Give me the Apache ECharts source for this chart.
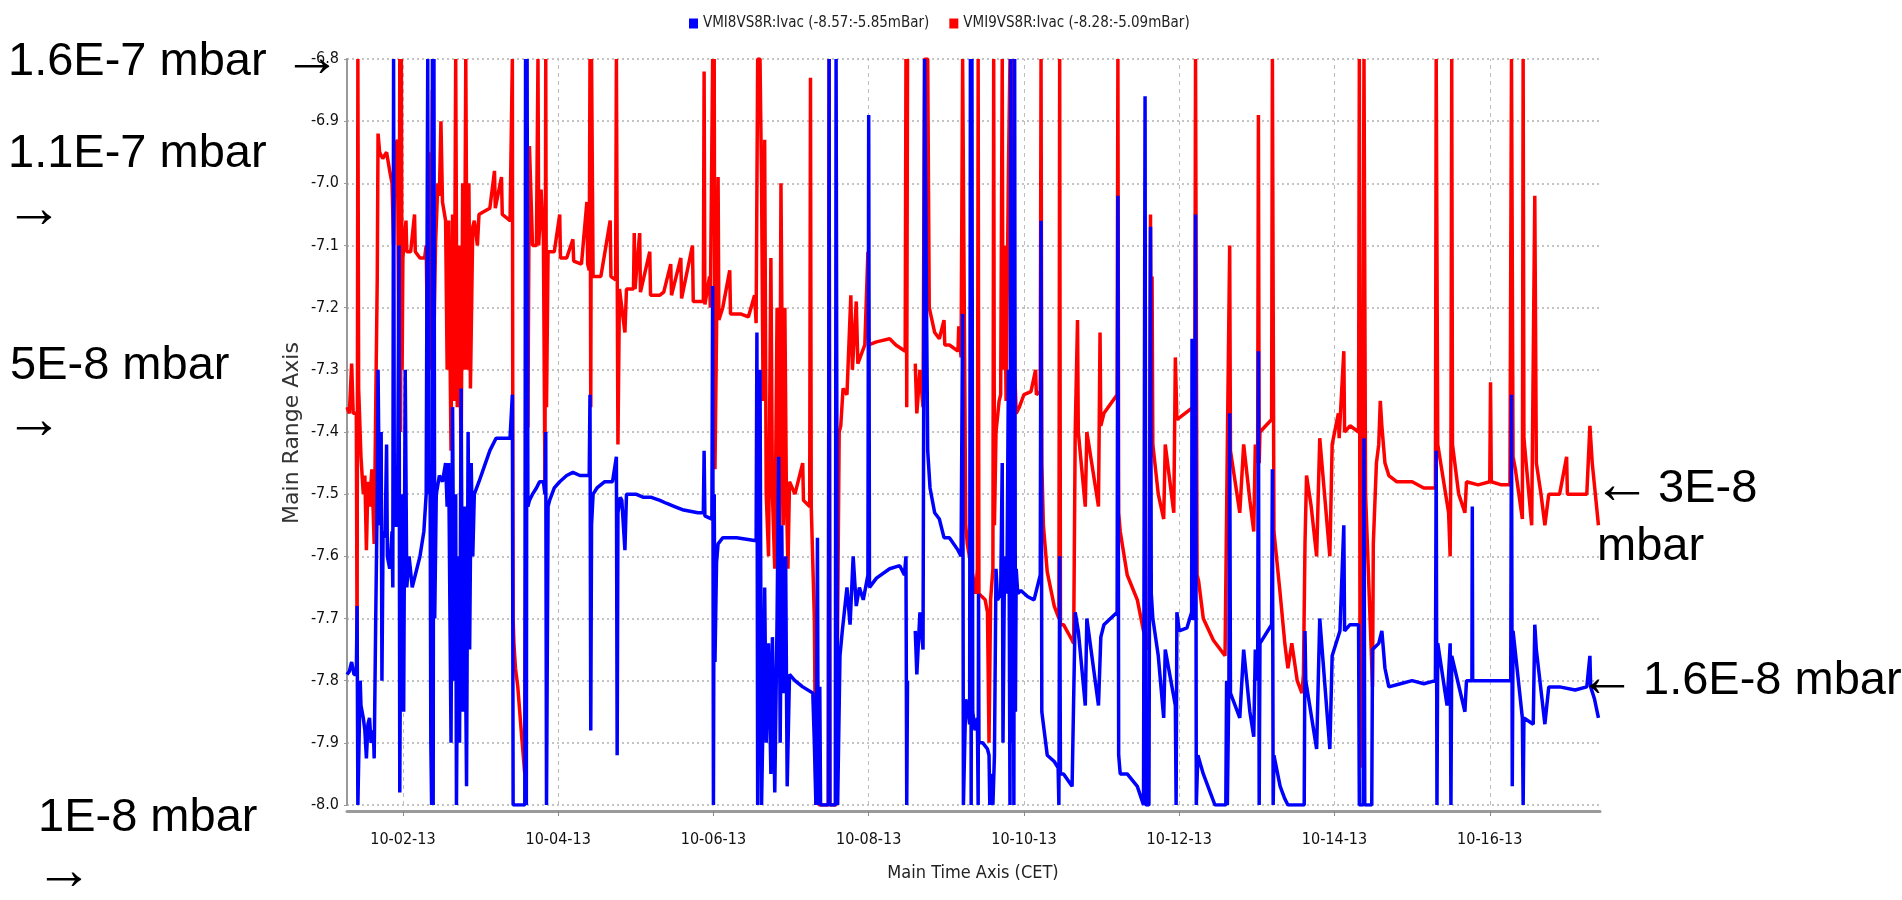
<!DOCTYPE html>
<html>
<head>
<meta charset="utf-8">
<title>VMI8VS8R / VMI9VS8R Ivac</title>
<script src="https://cdn.jsdelivr.net/npm/echarts@6/dist/echarts.min.js"></script>
<style>
  html, body { margin: 0; padding: 0; background: #fff; }
  #chart { width: 1902px; height: 900px; }
</style>
</head>
<body>
<div id="chart"></div>
<script>
// x = day of October 2013 (fractional), y = log10(pressure / mbar)
const xTickDays = [2, 4, 6, 8, 10, 12, 14, 16]
const seriesNames = ['VMI8VS8R:Ivac (-8.57:-5.85mBar)', 'VMI9VS8R:Ivac (-8.28:-5.09mBar)']

// VMI8VS8R (blue)
const blueA = [[1.28,-7.79],[1.31,-7.785],[1.34,-7.77],[1.37,-7.79],[1.40,-7.79],[1.41,-7.68],[1.42,-8.0],[1.44,-8.0],[1.45,-7.8],[1.46,-7.84],[1.49,-7.86],[1.51,-7.88],[1.53,-7.925],[1.55,-7.87],[1.57,-7.86],[1.59,-7.9],[1.62,-7.88],[1.63,-7.925],[1.65,-7.70],[1.67,-7.5],[1.68,-7.3],[1.70,-7.55],[1.72,-7.4],[1.73,-7.8],[1.745,-7.56],[1.77,-7.57],[1.79,-7.42],[1.80,-7.6],[1.83,-7.62],[1.86,-7.56],[1.87,-7.65],[1.88,-6.8],[1.89,-7.55],[1.93,-7.55],[1.95,-7.10],[1.96,-7.98],[1.97,-7.7],[1.99,-7.5],[2.01,-7.85],[2.03,-7.3],[2.05,-7.65],[2.08,-7.6],[2.12,-7.65],[2.18,-7.62],[2.22,-7.6],[2.27,-7.56],[2.30,-7.5],[2.32,-6.8],[2.33,-7.5],[2.35,-7.45],[2.36,-7.9],[2.37,-8.0],[2.38,-6.8],[2.39,-8.0],[2.40,-6.8],[2.41,-7.7],[2.43,-7.5],[2.47,-7.47],[2.51,-7.48],[2.55,-7.45],[2.57,-7.52],[2.59,-7.45],[2.62,-7.9],[2.64,-7.36],[2.66,-7.8],[2.68,-7.5],[2.69,-8.0],[2.71,-7.6],[2.73,-7.9],[2.75,-7.33],[2.77,-7.85],[2.79,-7.52],[2.82,-7.97],[2.84,-7.4],[2.86,-7.75],[2.88,-7.45],[2.90,-7.6],[2.92,-7.5],[2.98,-7.48],[3.05,-7.455],[3.12,-7.43],[3.20,-7.41],[3.27,-7.41],[3.38,-7.41],[3.40,-7.41],[3.41,-7.34],[3.42,-8.0],[3.44,-8.0],[3.57,-8.0],[3.58,-6.8],[3.59,-8.0],[3.60,-6.8],[3.61,-7.52],[3.63,-7.51],[3.67,-7.50],[3.72,-7.49],[3.76,-7.48],[3.81,-7.48],[3.83,-7.5],[3.84,-7.4],[3.85,-8.0],[3.86,-8.0],[3.87,-7.52],[3.89,-7.51],[3.95,-7.49],[4.02,-7.48],[4.11,-7.47],[4.19,-7.465],[4.28,-7.47],[4.37,-7.47],[4.40,-7.47],[4.41,-7.34],[4.42,-7.88],[4.43,-7.55],[4.45,-7.5],[4.50,-7.49],[4.60,-7.48],[4.70,-7.48],[4.75,-7.44],[4.76,-7.92],[4.77,-7.53],[4.80,-7.505],[4.82,-7.51],[4.86,-7.59],[4.88,-7.5],[4.92,-7.5],[5.0,-7.5],[5.10,-7.505],[5.20,-7.505],[5.31,-7.51]]
const blueB = [[5.40,-7.515],[5.50,-7.52],[5.60,-7.525],[5.80,-7.53],[5.87,-7.53],[5.88,-7.43],[5.89,-7.535],[5.98,-7.54],[5.99,-7.165],[6.0,-8.0],[6.01,-7.5],[6.02,-7.77],[6.04,-7.61],[6.06,-7.58],[6.12,-7.57],[6.30,-7.57],[6.55,-7.575],[6.56,-7.24],[6.57,-8.0],[6.60,-7.3],[6.62,-8.0],[6.64,-7.85],[6.66,-7.65],[6.68,-7.9],[6.71,-7.74],[6.74,-7.95],[6.76,-7.73],[6.79,-7.98],[6.82,-7.7],[6.84,-7.44],[6.86,-7.9],[6.88,-7.55],[6.90,-7.82],[6.93,-7.6],[6.95,-7.97],[6.98,-7.79],[7.05,-7.8],[7.15,-7.81],[7.28,-7.82],[7.30,-7.9],[7.32,-8.0],[7.34,-7.57],[7.35,-8.0],[7.37,-7.81],[7.38,-8.0],[7.48,-8.0],[7.49,-6.8],[7.50,-8.0],[7.57,-8.0],[7.58,-6.8],[7.60,-8.0],[7.62,-8.0],[7.63,-7.76],[7.66,-7.72],[7.72,-7.65],[7.76,-7.71],[7.80,-7.6],[7.84,-7.68],[7.88,-7.65],[7.93,-7.67],[7.99,-7.63],[8.00,-6.89],[8.01,-7.65],[8.10,-7.635],[8.27,-7.62],[8.40,-7.615],[8.46,-7.63],[8.48,-7.6],[8.49,-8.0],[8.50,-7.8],[8.55,null],[8.60,-7.72],[8.62,-7.79],[8.66,-7.69],[8.70,-7.75],[8.72,-6.8],[8.74,-6.8],[8.76,-7.43],[8.79,-7.49],[8.85,-7.53],[8.91,-7.54],[8.97,-7.57],[9.04,-7.57],[9.15,-7.59],[9.19,-7.6],[9.21,-7.21],[9.22,-8.0],[9.23,-8.0],[9.25,-7.83],[9.27,-7.84],[9.29,-7.86]]
const blueC = [[9.30,-7.87],[9.31,-6.8],[9.32,-8.0],[9.33,-6.8],[9.34,-7.85],[9.37,-7.88],[9.40,-7.86],[9.41,-8.0],[9.415,-7.66],[9.42,-7.9],[9.47,-7.9],[9.53,-7.91],[9.55,-7.92],[9.56,-8.0],[9.57,-7.95],[9.60,-8.0],[9.62,-7.92],[9.64,-7.62],[9.66,-7.67],[9.70,-7.66],[9.72,-7.45],[9.73,-7.9],[9.75,-7.6],[9.78,-7.66],[9.80,-7.30],[9.82,-8.0],[9.83,-6.8],[9.84,-7.9],[9.86,-7.5],[9.87,-8.0],[9.88,-6.8],[9.89,-7.85],[9.90,-7.62],[9.92,-7.66],[9.96,-7.655],[10.05,-7.665],[10.13,-7.67],[10.19,-7.64],[10.21,-7.63],[10.22,-7.06],[10.23,-7.85],[10.25,-7.87],[10.30,-7.92],[10.39,-7.93],[10.44,-7.94],[10.45,-8.0],[10.46,-7.60],[10.47,-7.95],[10.51,-7.95],[10.62,-7.97],[10.64,-7.97],[10.66,-7.69],[10.70,-7.72],[10.79,-7.84],[10.81,-7.70],[10.96,-7.84],[10.99,-7.73],[11.03,-7.71],[11.20,-7.69],[11.21,-7.02],[11.22,-7.92],[11.24,-7.95],[11.33,-7.95],[11.46,-7.97],[11.54,-8.0],[11.56,-6.86],[11.57,-8.0],[11.61,-8.0],[11.63,-7.07],[11.64,-7.66],[11.66,-7.70],[11.73,-7.76],[11.80,-7.86],[11.82,-7.75],[11.95,-7.84],[11.96,-8.0],[11.97,-7.69],[12.0,-7.72],[12.10,-7.715],[12.16,-7.69],[12.165,-7.25],[12.17,-7.70],[12.20,-7.70],[12.21,-7.05],[12.22,-8.0],[12.24,-7.92],[12.31,-7.95],[12.40,-7.98],[12.46,-8.0],[12.60,-8.0],[12.61,-7.80],[12.62,-8.0],[12.64,-7.80],[12.65,-7.37],[12.66,-7.82],[12.78,-7.86],[12.83,-7.75],[12.91,-7.85],[12.96,-7.89],[12.98,-7.75],[13.01,-7.8],[13.02,-7.27],[13.03,-8.0],[13.04,-7.74],[13.19,-7.71],[13.20,-7.46],[13.21,-8.0],[13.22,-7.92],[13.30,-7.97],[13.36,-7.99],[13.40,-8.0]]
const blueD = [[13.61,-8.0],[13.62,-7.72],[13.63,-7.80],[13.77,-7.91],[13.81,-7.70],[13.94,-7.91],[13.97,-7.76],[14.07,-7.72],[14.12,-7.55],[14.13,-7.72],[14.20,-7.71],[14.31,-7.71],[14.32,-8.0],[14.37,-8.0],[14.38,-7.41],[14.39,-8.0],[14.48,-8.0],[14.49,-7.75],[14.57,-7.74],[14.61,-7.72],[14.65,-7.78],[14.70,-7.81],[14.85,-7.805],[15.00,-7.80],[15.15,-7.805],[15.30,-7.80],[15.31,-7.43],[15.32,-8.0],[15.33,-7.74],[15.45,-7.84],[15.49,-7.74],[15.50,-8.0],[15.51,-7.76],[15.68,-7.85],[15.70,-7.80],[15.77,-7.80],[15.775,-7.52],[15.78,-7.80],[15.90,-7.80],[16.05,-7.80],[16.20,-7.80],[16.27,-7.80],[16.28,-7.34],[16.29,-7.97],[16.30,-7.72],[16.42,-7.86],[16.43,-8.0],[16.44,-7.86],[16.56,-7.87],[16.58,-7.71],[16.60,-7.75],[16.71,-7.87],[16.76,-7.81],[16.90,-7.81],[17.10,-7.815],[17.25,-7.81],[17.29,-7.76],[17.30,-7.81],[17.32,-7.81],[17.35,-7.83],[17.40,-7.86]]

// VMI9VS8R (red)
const redA = [[1.28,-7.36],[1.31,-7.37],[1.34,-7.29],[1.36,-7.37],[1.40,-7.37],[1.41,-7.75],[1.42,-6.8],[1.43,-7.33],[1.46,-7.44],[1.49,-7.50],[1.51,-7.47],[1.53,-7.59],[1.55,-7.48],[1.57,-7.52],[1.60,-7.46],[1.63,-7.58],[1.65,-7.36],[1.67,-7.15],[1.68,-6.92],[1.70,-6.95],[1.74,-6.96],[1.79,-6.95],[1.83,-6.98],[1.86,-7.0],[1.88,-7.1],[1.90,-6.94],[1.93,-6.93],[1.95,-7.33],[1.96,-6.8],[1.97,-7.4],[1.98,-6.8],[1.99,-7.3],[2.00,-7.12],[2.02,-7.09],[2.04,-7.06],[2.05,-7.11],[2.10,-7.11],[2.15,-7.05],[2.16,-7.11],[2.22,-7.12],[2.28,-7.12],[2.30,-7.1],[2.32,-7.29],[2.34,-6.95],[2.36,-7.3],[2.38,-6.85],[2.40,-7.25],[2.42,-7.1],[2.45,-7.0],[2.47,-7.02],[2.49,-6.9],[2.51,-7.03],[2.55,-7.06],[2.57,-7.3],[2.59,-7.06],[2.62,-7.43],[2.64,-7.05],[2.66,-7.35],[2.68,-6.8],[2.70,-7.36],[2.72,-7.1],[2.75,-7.45],[2.77,-7.0],[2.79,-7.3],[2.81,-6.8],[2.83,-7.3],[2.85,-7.0],[2.87,-7.33],[2.90,-7.07],[2.92,-7.06],[2.96,-7.10],[2.98,-7.05],[3.05,-7.045],[3.12,-7.04],[3.18,-6.98],[3.19,-7.04],[3.27,-6.99],[3.28,-7.05],[3.38,-7.06],[3.40,-7.06],[3.41,-6.8],[3.415,-7.33],[3.42,-7.70],[3.43,-7.74],[3.45,-7.78],[3.48,-7.81],[3.53,-7.89],[3.57,-7.95],[3.59,-7.4],[3.61,-7.39],[3.63,-6.94],[3.67,-7.1],[3.72,-7.10],[3.74,-6.8],[3.75,-7.1],[3.78,-7.01],[3.81,-7.09],[3.83,-7.48],[3.84,-6.8],[3.85,-7.36],[3.87,-7.11],[3.95,-7.11],[4.02,-7.05],[4.03,-7.12],[4.11,-7.12],[4.19,-7.09],[4.20,-7.125],[4.30,-7.13],[4.37,-7.03],[4.38,-7.13],[4.40,-7.14],[4.41,-6.8],[4.42,-7.36],[4.43,-6.8],[4.45,-7.15],[4.55,-7.15],[4.67,-7.06],[4.68,-7.15],[4.74,-7.155],[4.75,-6.8],[4.77,-7.42],[4.79,-7.17],[4.82,-7.2],[4.86,-7.24],[4.88,-7.17],[4.97,-7.17],[4.98,-7.08],[4.99,-7.17],[5.05,-7.08],[5.06,-7.175],[5.18,-7.11],[5.19,-7.18],[5.31,-7.18]]
const redB = [[5.36,-7.175],[5.45,-7.13],[5.46,-7.18],[5.58,-7.12],[5.59,-7.185],[5.73,-7.10],[5.74,-7.19],[5.87,-7.19],[5.88,-6.82],[5.89,-7.195],[5.95,-7.15],[5.96,-7.2],[5.98,-7.2],[5.99,-6.8],[6.0,-7.0],[6.01,-6.8],[6.02,-7.46],[6.04,-7.24],[6.06,-6.99],[6.07,-7.22],[6.12,-7.2],[6.21,-7.14],[6.22,-7.21],[6.35,-7.21],[6.45,-7.215],[6.53,-7.18],[6.55,-7.225],[6.57,-6.8],[6.60,-6.8],[6.62,-7.0],[6.64,-7.35],[6.66,-6.93],[6.68,-7.5],[6.71,-7.6],[6.74,-7.12],[6.76,-7.5],[6.79,-7.62],[6.82,-7.2],[6.85,-7.6],[6.87,-7.0],[6.90,-7.55],[6.92,-7.2],[6.94,-7.5],[6.96,-7.62],[6.98,-7.48],[7.05,-7.5],[7.15,-7.45],[7.16,-7.51],[7.24,-7.52],[7.25,-6.83],[7.26,-7.52],[7.28,-7.52],[7.30,-7.7],[7.32,-8.0],[7.34,-7.8],[7.36,-8.0],[7.48,-8.0],[7.49,-6.8],[7.50,-8.0],[7.58,-8.0],[7.62,-7.4],[7.64,-7.39],[7.67,-7.33],[7.72,-7.34],[7.77,-7.18],[7.79,-7.3],[7.84,-7.19],[7.86,-7.29],[7.95,-7.26],[7.99,-7.11],[8.0,-7.26],[8.1,-7.255],[8.27,-7.25],[8.35,-7.26],[8.47,-7.27],[8.48,-6.8],[8.49,-7.36],[8.50,-6.8],[8.55,null],[8.60,-7.29],[8.62,-7.37],[8.66,-7.3],[8.70,-7.36],[8.72,-6.8],[8.76,-6.8],[8.78,-7.2],[8.85,-7.24],[8.91,-7.25],[8.97,-7.22],[8.98,-7.26],[9.04,-7.26],[9.15,-7.27],[9.16,-7.23],[9.19,-7.28],[9.21,-6.8],[9.23,-6.8],[9.25,-7.55],[9.27,-7.58],[9.38,-7.66]]
const redC = [[9.40,-7.62],[9.41,-6.8],[9.42,-7.66],[9.50,-7.67],[9.53,-7.69],[9.55,-7.9],[9.57,-7.67],[9.60,-7.62],[9.61,-6.8],[9.62,-7.55],[9.64,-7.4],[9.68,-7.35],[9.70,-7.34],[9.72,-6.8],[9.73,-7.3],[9.75,-7.1],[9.77,-7.35],[9.80,-6.98],[9.82,-6.8],[9.84,-7.25],[9.86,-6.8],[9.88,-7.3],[9.90,-7.37],[9.94,-7.36],[10.0,-7.34],[10.09,-7.335],[10.15,-7.3],[10.16,-7.34],[10.21,-7.335],[10.22,-6.8],[10.23,-7.45],[10.25,-7.55],[10.30,-7.625],[10.39,-7.68],[10.45,-7.7],[10.46,-6.8],[10.47,-7.71],[10.51,-7.71],[10.62,-7.735],[10.64,-7.74],[10.66,-7.40],[10.69,-7.22],[10.70,-7.40],[10.79,-7.52],[10.81,-7.4],[10.96,-7.52],[10.98,-7.24],[10.99,-7.39],[11.03,-7.37],[11.20,-7.34],[11.21,-6.8],[11.22,-7.53],[11.24,-7.56],[11.33,-7.63],[11.46,-7.67],[11.54,-7.72],[11.61,-7.75],[11.63,-7.05],[11.64,-7.44],[11.65,-7.15],[11.66,-7.42],[11.73,-7.5],[11.80,-7.54],[11.82,-7.42],[11.93,-7.53],[11.95,-7.28],[11.97,-7.38],[12.18,-7.36],[12.20,-7.37],[12.21,-6.8],[12.23,-7.63],[12.25,-7.64],[12.31,-7.70],[12.44,-7.735],[12.59,-7.76],[12.61,-7.76],[12.62,-7.42],[12.65,-7.1],[12.66,-7.43],[12.78,-7.53],[12.83,-7.42],[12.91,-7.51],[12.96,-7.56],[12.98,-7.42],[13.01,-7.45],[13.02,-6.89],[13.03,-7.45],[13.04,-7.4],[13.19,-7.38],[13.20,-6.8],[13.22,-7.56],[13.30,-7.66],[13.36,-7.74],[13.40,-7.78]]
const redD = [[13.45,-7.74],[13.52,-7.8],[13.58,-7.82],[13.60,-7.79],[13.62,-7.58],[13.64,-7.47],[13.70,-7.52],[13.77,-7.60],[13.81,-7.41],[13.94,-7.60],[13.97,-7.42],[14.05,-7.37],[14.06,-7.41],[14.12,-7.27],[14.13,-7.40],[14.20,-7.39],[14.31,-7.40],[14.32,-6.8],[14.33,-7.94],[14.36,-7.5],[14.38,-6.8],[14.40,-7.5],[14.49,-7.81],[14.50,-7.58],[14.54,-7.45],[14.57,-7.42],[14.59,-7.35],[14.61,-7.39],[14.65,-7.45],[14.70,-7.47],[14.80,-7.48],[15.00,-7.48],[15.15,-7.49],[15.30,-7.49],[15.31,-6.8],[15.33,-7.42],[15.47,-7.53],[15.49,-7.6],[15.50,-7.42],[15.51,-6.8],[15.52,-7.42],[15.60,-7.5],[15.68,-7.53],[15.70,-7.48],[15.85,-7.485],[16.00,-7.48],[16.01,-7.32],[16.02,-7.48],[16.15,-7.485],[16.26,-7.485],[16.28,-6.8],[16.30,-7.44],[16.33,-7.46],[16.42,-7.54],[16.43,-6.8],[16.44,-7.41],[16.54,-7.55],[16.58,-7.02],[16.60,-7.45],[16.66,-7.50],[16.71,-7.55],[16.76,-7.5],[16.90,-7.5],[16.99,-7.44],[17.00,-7.5],[17.10,-7.5],[17.25,-7.5],[17.29,-7.39],[17.32,-7.45],[17.36,-7.5],[17.40,-7.55]]

const blueData = blueA.concat(blueB, blueC, blueD)
const redData = redA.concat(redB, redC, redD)

const narrow = "'DejaVu Sans Condensed', 'Liberation Sans Narrow', 'DejaVu Sans', sans-serif"
const arial = "'Liberation Sans', Arial, sans-serif"

// hand-written notes around the plot (x = left edge, y = middle of the capitals)
const notes = [
  { text: '1.6E-7 mbar', x: 8, y: 62 },
  { text: '1.1E-7 mbar', x: 8, y: 154 },
  { text: '5E-8 mbar', x: 10, y: 366 },
  { text: '1E-8 mbar', x: 38, y: 818 },
  { text: '3E-8', x: 1658, y: 489 },
  { text: 'mbar', x: 1597, y: 547 },
  { text: '1.6E-8 mbar', x: 1643, y: 681 }
]
// arrows (x = centre)
const arrows = [
  { text: '→', x: 312, y: 60 },
  { text: '→', x: 34, y: 211 },
  { text: '→', x: 34, y: 422 },
  { text: '→', x: 64, y: 873 },
  { text: '←', x: 1622, y: 487 },
  { text: '←', x: 1607, y: 680 }
]

const pad2 = n => (n < 10 ? '0' : '') + n

let myChart = echarts.init(document.getElementById('chart'))
myChart.setOption({
  animation: false,
  backgroundColor: '#fff',
  grid: { left: 347, right: 302, top: 59, bottom: 95 },
  legend: {
    data: seriesNames,
    left: 684,
    top: 11,
    icon: 'rect',
    itemWidth: 9,
    itemHeight: 10,
    itemGap: 20,
    textStyle: { fontFamily: narrow, fontSize: 15, color: '#222' }
  },
  xAxis: {
    type: 'value',
    min: 1.28,
    max: 17.42,
    offset: 6,
    axisLine: { lineStyle: { color: '#9a9a9a', width: 3 } },
    axisTick: { show: true, length: 5, customValues: xTickDays, lineStyle: { color: '#888' } },
    axisLabel: {
      customValues: xTickDays,
      margin: 21,
      fontFamily: narrow,
      fontSize: 16,
      color: '#111',
      formatter: d => '10-' + pad2(d) + '-13'
    },
    splitLine: { show: false }
  },
  yAxis: {
    type: 'value',
    min: -8,
    max: -6.8,
    interval: 0.1,
    axisLine: { show: true, lineStyle: { color: '#999', width: 2 } },
    axisTick: { show: true, length: 3, lineStyle: { color: '#999' } },
    axisLabel: {
      margin: 8,
      fontFamily: narrow,
      fontSize: 16,
      color: '#111',
      formatter: v => v.toFixed(1)
    },
    splitLine: { lineStyle: { color: '#c4c4c4', type: [2, 3], width: 2 } }
  },
  series: [
    {
      name: seriesNames[0],
      type: 'line',
      data: blueData,
      showSymbol: false,
      symbol: 'none',
      z: 3,
      color: '#0000ff',
      lineStyle: { color: '#0000ff', width: 3.5 }
    },
    {
      name: seriesNames[1],
      type: 'line',
      data: redData,
      showSymbol: false,
      symbol: 'none',
      z: 2,
      color: '#ff0000',
      lineStyle: { color: '#ff0000', width: 3.5 }
    },
    {
      // vertical date gridlines, kept under the data
      type: 'line',
      data: [],
      z: 1,
      silent: true,
      markLine: {
        z: 1,
        silent: true,
        symbol: 'none',
        label: { show: false },
        lineStyle: { color: '#bdbdbd', type: [4, 4], width: 1 },
        data: xTickDays.map(d => ({ xAxis: d }))
      }
    }
  ],
  graphic: [
    {
      type: 'text', x: 292, y: 433, rotation: Math.PI / 2,
      style: { text: 'Main Range Axis', fontFamily: "'DejaVu Sans', sans-serif", fontSize: 22, fill: '#333', align: 'center', verticalAlign: 'middle' }
    },
    {
      type: 'text', x: 973, y: 873,
      style: { text: 'Main Time Axis (CET)', fontFamily: narrow, fontSize: 18, fill: '#222', align: 'center', verticalAlign: 'middle' }
    }
  ].concat(notes.map(n => ({
    type: 'text', x: n.x, y: n.y, z: 10,
    style: { text: n.text, fontFamily: arial, fontSize: 47, fill: '#000', align: 'left', verticalAlign: 'middle' }
  })), arrows.map(a => ({
    type: 'text', x: a.x, y: a.y, z: 11,
    style: { text: a.text, fontFamily: arial, fontWeight: 'bold', fontSize: 58, fill: '#000', align: 'center', verticalAlign: 'middle' }
  })))
})
</script>
</body>
</html>
